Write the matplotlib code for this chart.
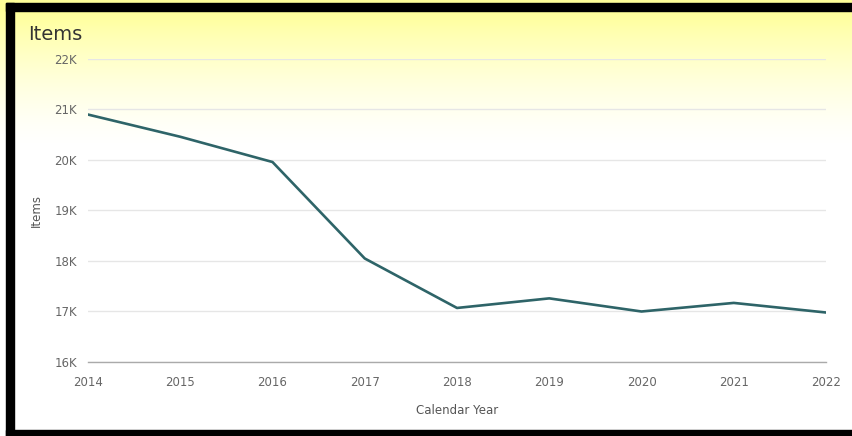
import numpy as np
import matplotlib
matplotlib.use("Agg")
import matplotlib.pyplot as plt
from matplotlib.patches import Rectangle

years = [2014, 2015, 2016, 2017, 2018, 2019, 2020, 2021, 2022]
items = [20900, 20460, 19960, 18050, 17070, 17260, 17000, 17170, 16980]
y_ticks = [16000, 17000, 18000, 19000, 20000, 21000, 22000]
y_tick_labels = ["16K", "17K", "18K", "19K", "20K", "21K", "22K"]

W, H = 853, 436
fig = plt.figure(figsize=(W / 100, H / 100), dpi=100)
fig.patch.set_facecolor("white")

# background gradient (figure-level)
bg = fig.add_axes([0, 0, 1, 1], zorder=-10)
bg.set_xlim(0, W)
bg.set_ylim(H, 0)
bg.axis("off")
ys = np.arange(H)
t = np.clip((ys - 11) / (150 - 11), 0, 1)
a = (1 - t) ** 1.5
top = np.array([1.0, 1.0, 0.6])
col = top[None, :] * a[:, None] + np.ones(3)[None, :] * (1 - a[:, None])
img = np.repeat(col[:, None, :], W, axis=1)
bg.imshow(img, extent=[0, W, H, 0], aspect="auto", interpolation="bilinear")
# black frame
bg.add_patch(Rectangle((6, 3), W, 8, color="black"))
bg.add_patch(Rectangle((6, 3), 8, H, color="black"))
bg.add_patch(Rectangle((6, 430), W, 10, color="black"))

ax = fig.add_axes([88 / W, 1 - 362 / H, (826 - 88) / W, (362 - 59) / H])
ax.patch.set_alpha(0)
ax.plot(years, items, color="#2e6468", linewidth=1.9, solid_joinstyle="round")
ax.set_xlim(2014, 2022)
ax.set_ylim(16000, 22000)
ax.set_xticks(years)
ax.set_xticklabels([str(y) for y in years])
ax.set_yticks(y_ticks)
ax.set_yticklabels(y_tick_labels)
ax.grid(axis="y", color="#e6e6e6", linewidth=1)
ax.set_axisbelow(True)
for s in ["top", "right", "left"]:
    ax.spines[s].set_visible(False)
ax.spines["bottom"].set_color("#aaaaaa")
ax.spines["bottom"].set_linewidth(1)
ax.tick_params(axis="both", length=0, colors="#666666", labelsize=8.5)
ax.tick_params(axis="y", pad=8)
ax.tick_params(axis="x", pad=10)
ax.set_xlabel("Calendar Year", fontsize=8.5, color="#555555", labelpad=11)
ax.set_ylabel("Items", fontsize=8.5, color="#555555", labelpad=8)

fig.text(28 / W, 1 - 34 / H, "Items", fontsize=14, color="#333333", va="center", ha="left")

fig.savefig("out.png", dpi=100)
